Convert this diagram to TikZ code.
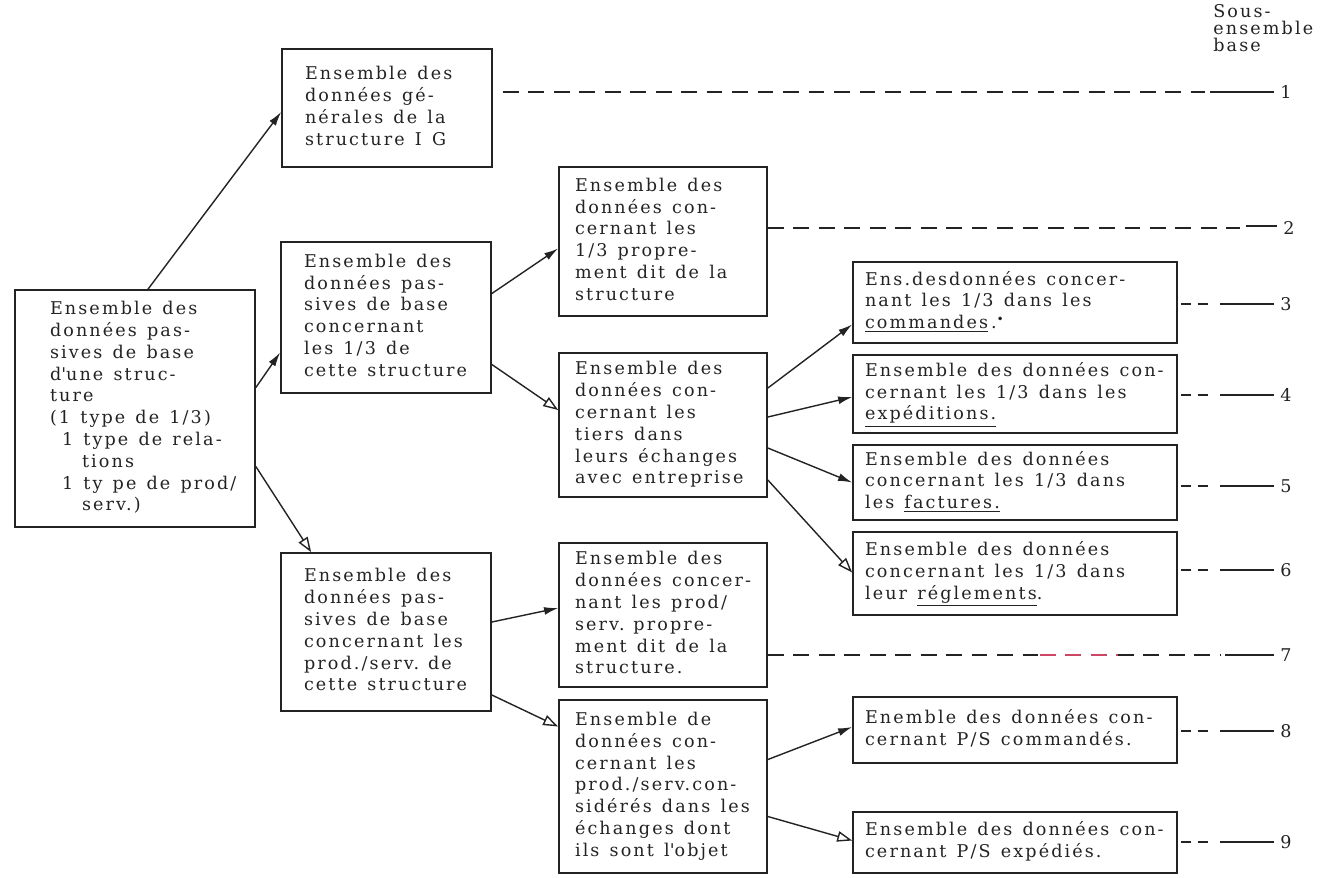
\documentclass[tikz,border=0pt]{standalone}
\usepackage{fontspec}
\setmainfont{DejaVu Serif}[LetterSpace=12]
\usetikzlibrary{arrows.meta,calc}
\definecolor{ink}{RGB}{35,35,35}
\definecolor{redink}{RGB}{205,70,100}
% typewriter-like text: wide letters and wide word gaps
\newcommand\typefont{\fontsize{10}{12.4}\selectfont\fontdimen2\font=5.8pt\relax}
% one text line per row, no automatic wrapping
\newcommand\tlines[1]{\spaceskip=5.8pt\relax\begin{tabular}{@{}l@{}}#1\end{tabular}}
\begin{document}
\begin{tikzpicture}[x=0.02cm,y=-0.02cm,
  every node/.style={font=\typefont, text=ink},
  box/.style={draw=ink, line width=1pt, inner ysep=0pt, align=left},
  abox/.style={box, minimum width=4.8cm, text width=3.4cm, inner xsep=0.7cm},
  lbox/.style={box, minimum width=4.2cm, text width=3.28cm, inner xsep=0.46cm},
  mbox/.style={box, minimum width=4.16cm, text width=3.52cm, inner xsep=0.32cm},
  rbox/.style={box, minimum width=6.48cm, text width=6.0cm, inner xsep=0.24cm},
  link/.style={draw=ink, line width=0.8pt, -{Latex[length=8pt,width=4.5pt]}},
  olink/.style={draw=ink, line width=0.8pt, -{Triangle[open,length=8.5pt,width=6pt]}},
  lead/.style={draw=ink, line width=0.9pt, dash pattern=on 9pt off 5.5pt},
  slead/.style={draw=ink, line width=0.9pt, dash pattern=on 6pt off 3.5pt},
  tick/.style={draw=ink, line width=0.9pt},
  num/.style={inner sep=0pt, anchor=west},
]
\useasboundingbox (0,0) rectangle (1341,877);

% ---- boxes ----
\node[abox, minimum height=4.74cm] (A) at (135,408.5) {\tlines{Ensemble des\\données pas-\\sives de base\\d\textquotesingle une struc-\\ture\\(1 type de 1/3)\\\hspace*{0.24cm}1 type de rela-\\\hspace*{0.64cm}tions\\\hspace*{0.24cm}1 ty pe de prod/\\\hspace*{0.64cm}serv.)}};

\node[lbox, minimum height=2.36cm] (B) at (387,108) {\tlines{Ensemble des\\données gé-\\nérales de la\\structure I G}};
\node[lbox, minimum height=3.02cm] (C) at (386,317.5) {\tlines{Ensemble des\\données pas-\\sives de base\\concernant\\les 1/3 de\\cette structure}};
\node[lbox, minimum height=3.16cm] (D) at (386,632) {\tlines{Ensemble des\\données pas-\\sives de base\\concernant les\\prod./serv. de\\cette structure}};

\node[mbox, minimum height=2.98cm] (E) at (663,241.5) {\tlines{Ensemble des\\données con-\\cernant les\\1/3 propre-\\ment dit de la\\structure}};
\node[mbox, minimum height=2.88cm] (F) at (663,425) {\tlines{Ensemble des\\données con-\\cernant les\\tiers dans\\leurs échanges\\avec entreprise}};
\node[mbox, minimum height=2.88cm] (G) at (663,615) {\tlines{Ensemble des\\données concer-\\nant les prod/\\serv. propre-\\ment dit de la\\structure.}};
\node[mbox, minimum height=3.46cm] (H) at (663,786.5) {\tlines{Ensemble de\\données con-\\cernant les\\prod./serv.con-\\sidérés dans les\\échanges dont\\ils sont l\textquotesingle objet}};

\node[rbox, minimum height=1.62cm] (R3) at (1015,302.5) {\tlines{Ens.desdonnées concer-\\nant les 1/3 dans les\\\underline{commandes}\,.\raisebox{0.6ex}{\scriptsize •}}};
\node[rbox, minimum height=1.56cm] (R4) at (1015,394) {\tlines{Ensemble des données con-\\cernant les 1/3 dans les\\\underline{expéditions.}}};
\node[rbox, minimum height=1.5cm] (R5) at (1015,482.5) {\tlines{Ensemble des données\\concernant les 1/3 dans\\les \underline{factures.}}};
\node[rbox, minimum height=1.66cm] (R6) at (1015,573.5) {\tlines{Ensemble des données\\concernant les 1/3 dans\\leur \underline{réglements}.}};
\node[rbox, minimum height=1.32cm] (R8) at (1015,730) {\tlines{Enemble des données con-\\cernant P/S commandés.}};
\node[rbox, minimum height=1.22cm] (R9) at (1015,842.5) {\tlines{Ensemble des données con-\\cernant P/S expédiés.}};

% ---- column heading ----
\node[anchor=north west, align=left, inner sep=0pt, font=\fontsize{10}{9.6}\selectfont] (hdr) at (1213,4) {Sous-\\ensemble\\base};

% ---- sub-set numbers ----
\node[num] (n1) at (1280,92) {1};
\node[num] (n2) at (1283,228) {2};
\node[num] (n3) at (1280,304) {3};
\node[num] (n4) at (1280,395) {4};
\node[num] (n5) at (1280,486) {5};
\node[num] (n6) at (1280,570) {6};
\node[num] (n7) at (1280,655) {7};
\node[num] (n8) at (1280,731) {8};
\node[num] (n9) at (1280,842) {9};

% ---- arrows ----
\draw[link]  ($(A.north)+(13,0)$) -- ($(B.west)+(0,4)$);
\draw[link]  ($(A.east)+(0,-21)$) -- ($(C.west)+(0,35)$);
\draw[olink] ($(A.east)+(0,58)$) -- ($(D.north west)+(31,0)$);

\draw[link]  ($(C.east)+(0,-24)$) -- ($(E.west)+(0,7)$);
\draw[olink] ($(C.east)+(0,47)$) -- ($(F.west)+(0,-15)$);

\draw[link]  ($(F.east)+(0,-37)$) -- ($(R3.west)+(0,22)$);
\draw[link]  ($(F.east)+(0,-8)$) -- ($(R4.west)+(0,3)$);
\draw[link]  ($(F.east)+(0,23)$) -- (R5.west);
\draw[olink] ($(F.east)+(0,55)$) -- ($(R6.west)+(0,-1)$);

\draw[link]  ($(D.east)+(0,-10)$) -- ($(G.west)+(0,-7)$);
\draw[olink] ($(D.east)+(0,63)$) -- ($(H.west)+(0,-60)$);

\draw[link]  ($(H.east)+(0,-27)$) -- ($(R8.west)+(0,-3)$);
\draw[olink] ($(H.east)+(0,30)$) -- ($(R9.west)+(0,-2)$);

% ---- leaders to the sub-set numbers ----
\coordinate (d1) at (1205,92);   \coordinate (s1) at (1210,92);
\coordinate (d2) at (1240,228);  \coordinate (s2) at (1246,226);
\coordinate (d7) at (1220,655);  \coordinate (s7) at (1225,655);
\coordinate (r7a) at (1040,655); \coordinate (r7b) at (1118,655);

\draw[lead] ($(B.east |- n1)+(10,0)$) -- (d1);
\draw[tick] (s1) -- ($(n1.west)+(-6,0)$);

\draw[lead] (E.east |- n2) -- (d2);
\draw[tick] (s2) -- ($(n2.west)+(-6,-2)$);

\draw[lead] (G.east |- n7) -- (r7a);
\draw[lead, draw=redink] (r7a) -- (r7b);
\draw[lead] (r7b) -- (d7);
\draw[tick] (s7) -- ($(n7.west)+(-6,0)$);

\foreach \r/\n in {R3/n3,R4/n4,R5/n5,R6/n6,R8/n8,R9/n9}{
  \draw[slead] ($(\r.east |- \n)+(3,0)$) -- ($(\r.east |- \n)+(34,0)$);
  \draw[tick] ($(\r.east |- \n)+(42,0)$) -- ($(\n.west)+(-6,0)$);
}
\end{tikzpicture}
\end{document}
